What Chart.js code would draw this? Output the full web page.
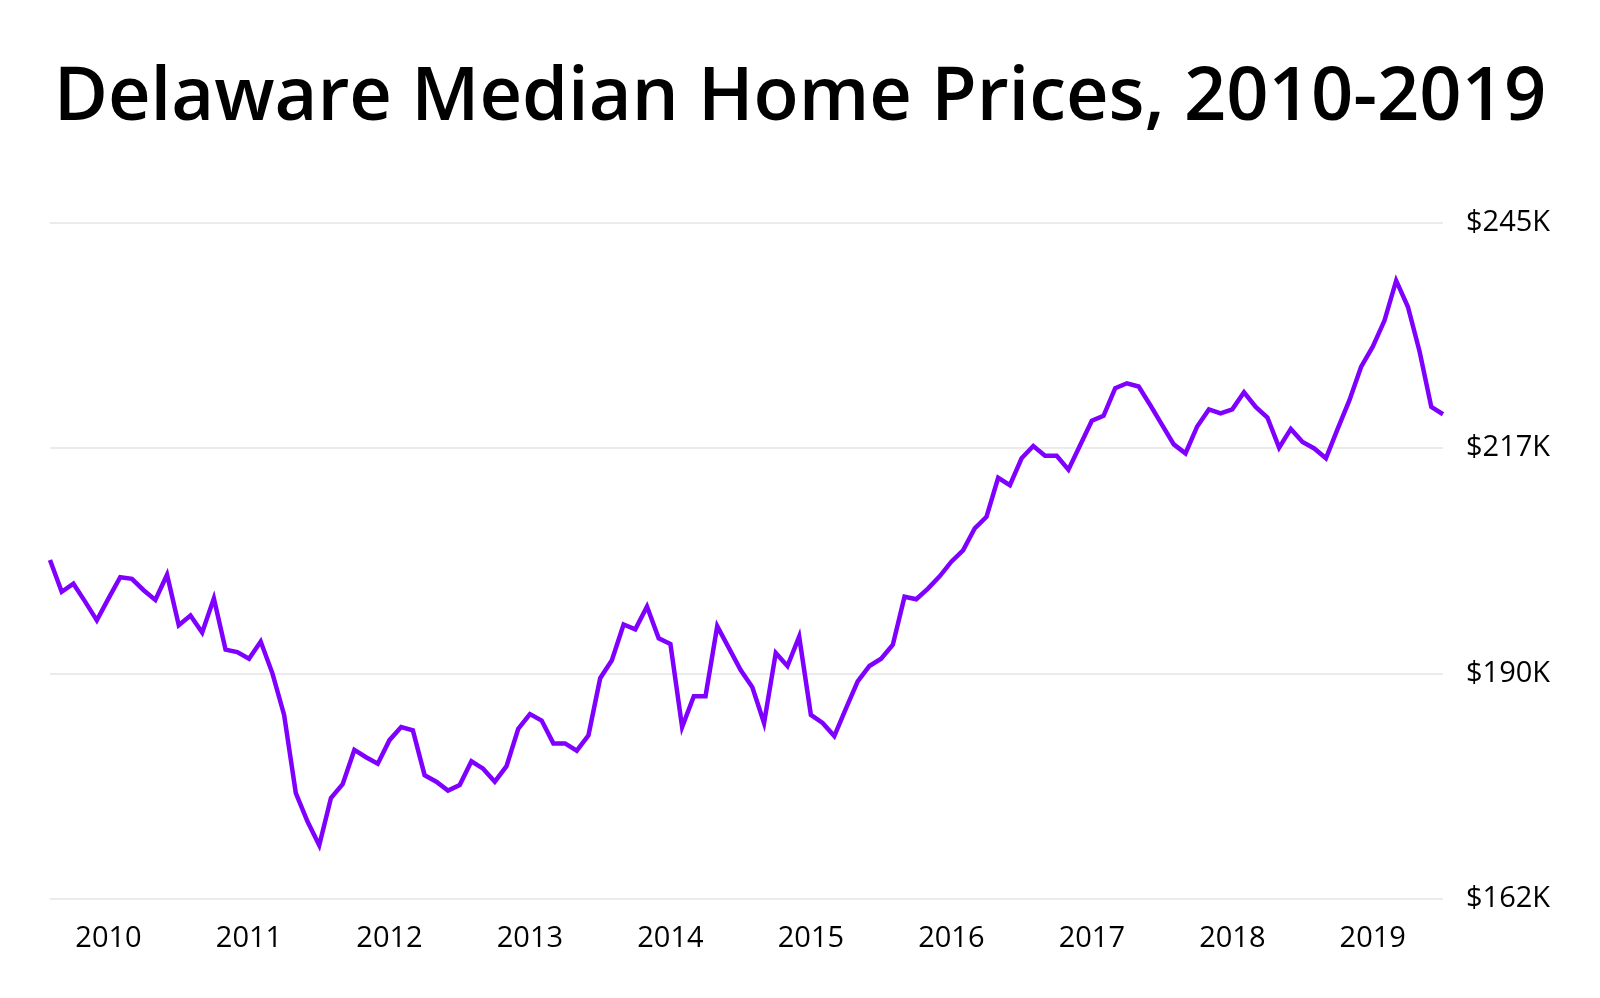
<!DOCTYPE html>
<html>
<head>
<meta charset="utf-8">
<title>Delaware Median Home Prices</title>
<script src="https://cdn.jsdelivr.net/npm/chart.js@4/dist/chart.umd.min.js"></script>
<style>
    html, body { margin: 0; padding: 0; background: #ffffff; }
    #wrap { width: 1600px; height: 998px; position: relative; }
</style>
</head>
<body>
<div id="wrap"><canvas id="priceChart"></canvas></div>
<script>
// === ДАННЫЕ ===
const chartTitle = 'Delaware Median Home Prices, 2010-2019';

// monthly points, Aug 2009 .. Jul 2019
const startYear = 2009;
const startMonth = 8;

// median price, thousands of $
const medianPrice = [
    203.6, 199.7, 200.7, 198.5, 196.2, 198.9, 201.5, 201.3, 199.9, 198.7,
    201.8, 195.6, 196.8, 194.7, 198.9, 192.6, 192.3, 191.5, 193.6, 189.7,
    184.6, 175.0, 171.5, 168.6, 174.4, 176.1, 180.3, 179.4, 178.6, 181.5,
    183.1, 182.7, 177.2, 176.4, 175.3, 176.0, 178.9, 178.0, 176.4, 178.3,
    182.9, 184.7, 183.9, 181.1, 181.1, 180.2, 182.1, 189.1, 191.3, 195.7,
    195.1, 197.9, 194.0, 193.3, 183.1, 186.9, 186.9, 195.5, 192.8, 190.1,
    188.0, 183.6, 192.2, 190.6, 194.2, 184.6, 183.6, 182.0, 185.4, 188.7,
    190.6, 191.5, 193.2, 199.1, 198.8, 200.1, 201.6, 203.4, 204.8, 207.5,
    208.9, 213.7, 212.8, 216.1, 217.6, 216.4, 216.4, 214.7, 217.7, 220.7,
    221.3, 224.7, 225.3, 224.9, 222.6, 220.2, 217.8, 216.7, 220.0, 222.1,
    221.6, 222.1, 224.2, 222.4, 221.1, 217.4, 219.7, 218.1, 217.3, 216.1,
    219.7, 223.2, 227.3, 229.8, 233.0, 237.9, 234.7, 229.2, 222.4, 221.5
];

// y axis: 162K .. 245K in three equal steps
const yTicks = [162, 189.667, 217.333, 245];
const yTickLabels = ['$162K', '$190K', '$217K', '$245K'];

// month labels 'YYYY-MM'
const monthLabels = medianPrice.map((_, i) => {
    const m = startMonth - 1 + i;
    const y = startYear + Math.floor(m / 12);
    return y + '-' + String(m % 12 + 1).padStart(2, '0');
});

// === ГРАФИК ===
const ctx = document.getElementById('priceChart');

// @ts-ignore
new Chart(ctx, {
    type: 'line',
    data: {
        labels: monthLabels,
        datasets: [{
            data: medianPrice,
            xAxisID: 'x',
            yAxisID: 'y',
            borderColor: '#7f00ff',
            borderWidth: 4.5,
            tension: 0,
            pointRadius: 0,
            pointHoverRadius: 0,
            fill: false
        }]
    },
    options: {
        responsive: true,
        maintainAspectRatio: false,
        animation: false,
        layout: { padding: 0 },
        plugins: {
            legend: { display: false },
            tooltip: { enabled: false },
            title: {
                display: true,
                text: chartTitle,
                color: '#000000',
                font: { family: 'Open Sans', size: 74, weight: '600' },
                padding: { top: 55, bottom: 79 }
            }
        },
        scales: {
            x: {
                grid: { display: false, drawTicks: false },
                border: { display: false },
                ticks: {
                    autoSkip: false,
                    maxRotation: 0,
                    color: '#000000',
                    font: { family: 'Open Sans', size: 29 },
                    padding: 22,
                    callback: function (val, i) {
                        const lbl = monthLabels[i];
                        return lbl.endsWith('-01') ? lbl.slice(0, 4) : '';
                    }
                },
                afterFit: (scale) => { scale.height = 99; }
            },
            // empty left strip so the plot starts at x=50
            yLeft: {
                position: 'left',
                min: 0,
                max: 1,
                grid: { display: false, drawTicks: false },
                border: { display: false },
                ticks: { display: false },
                afterFit: (scale) => { scale.width = 50; }
            },
            y: {
                position: 'right',
                min: yTicks[0],
                max: yTicks[yTicks.length - 1],
                afterBuildTicks: (scale) => {
                    scale.ticks = yTicks.map(v => ({ value: v }));
                },
                grid: { color: '#ebebeb', lineWidth: 2, drawTicks: false },
                border: { display: false },
                ticks: {
                    color: '#000000',
                    font: { family: 'Open Sans', size: 29 },
                    padding: 23,
                    callback: function (val, i) { return yTickLabels[i]; }
                },
                afterFit: (scale) => { scale.width = 157; }
            }
        }
    }
});
</script>
</body>
</html>
